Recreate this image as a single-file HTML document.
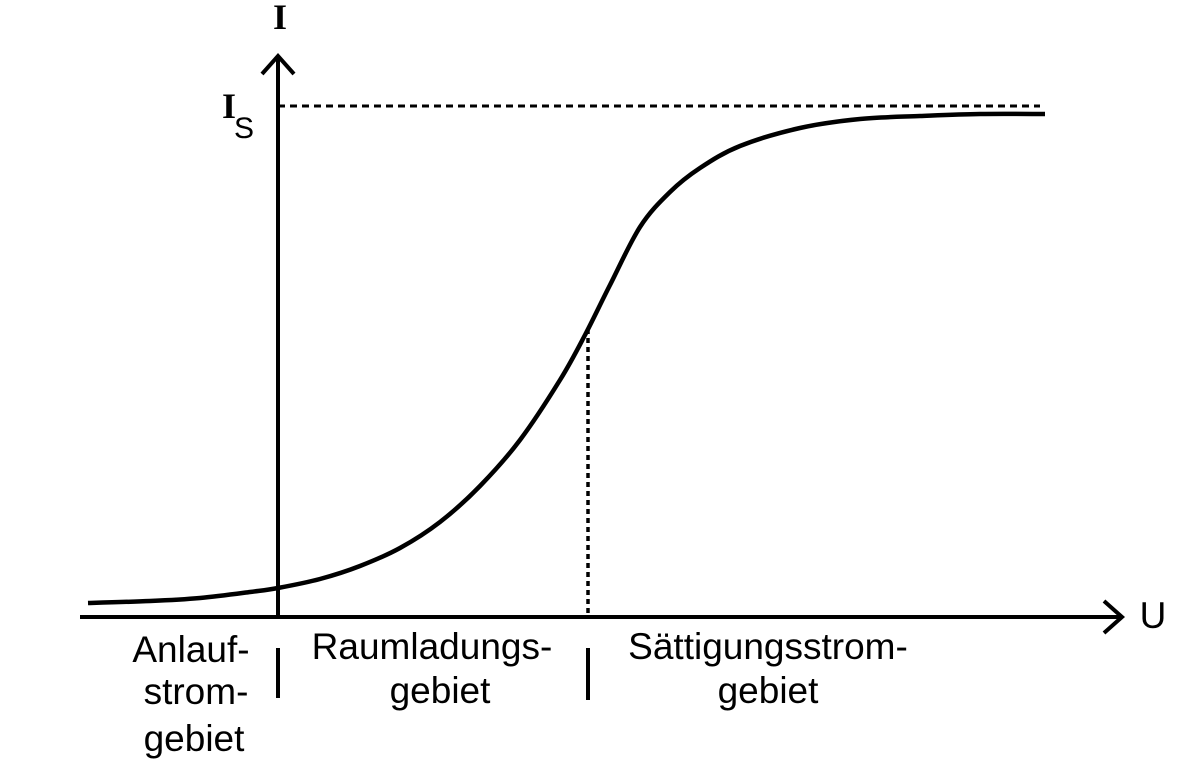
<!DOCTYPE html>
<html><head><meta charset="utf-8"><style>
html,body{margin:0;padding:0;background:#fff}
svg{display:block}
text{fill:#000}
</style></head><body>
<svg width="1197" height="765" viewBox="0 0 1197 765">
<g id="chart"></g>
</svg>
<script>
// Voltage (arbitrary units) and current (arbitrary units)
const uValues = [-1.90,-1.28,-0.78,-0.28,0,0.42,0.82,1.22,1.62,2.02,2.42,2.82,3.07,3.32,3.62,3.92,4.22,4.62,5.22,5.82,6.42,7.02,7.67];
const iValues = [0.14,0.16,0.19,0.25,0.29,0.38,0.51,0.69,0.95,1.31,1.77,2.37,2.82,3.32,3.90,4.25,4.49,4.71,4.89,4.98,5.01,5.03,5.03];
const saturationCurrent = [5.11];
const markerU = [3.10];
const axisLabels = ["U","I"];

const x0=278, y0=617, sx=100, sy=100;
function xs(u){return x0+u*sx;}
function ys(i){return y0-i*sy;}
const ns="http://www.w3.org/2000/svg";
const g=document.getElementById('chart');
function mk(tag,attrs,name){const e=document.createElementNS(ns,tag);for(const k in attrs)e.setAttribute(k,attrs[k]);


g.appendChild(e);return e;}

mk('line',{x1:80,y1:y0,x2:1122,y2:y0,stroke:'#000','stroke-width':4},'x-axis');
mk('polyline',{points:'1104,601 1122,617 1104,633',fill:'none',stroke:'#000','stroke-width':4},'x-axis-arrow');
mk('line',{x1:x0,y1:617,x2:x0,y2:56,stroke:'#000','stroke-width':4},'y-axis');
mk('polyline',{points:'262,74 278,56 294,74',fill:'none',stroke:'#000','stroke-width':4},'y-axis-arrow');

const ysat=ys(saturationCurrent[0]);
mk('line',{x1:x0,y1:ysat,x2:1040,y2:ysat,stroke:'#000','stroke-width':3,'stroke-dasharray':'7,5'},'saturation-line');

const P=uValues.map((u,k)=>[xs(u),ys(iValues[k])]);
let d='M'+P[0][0]+','+P[0][1];
for(let k=0;k<P.length-1;k++){
  const p0=P[k-1]||P[k],p1=P[k],p2=P[k+1],p3=P[k+2]||P[k+1];
  const c1=[p1[0]+(p2[0]-p0[0])/6,p1[1]+(p2[1]-p0[1])/6];
  const c2=[p2[0]-(p3[0]-p1[0])/6,p2[1]-(p3[1]-p1[1])/6];
  d+='C'+c1[0].toFixed(1)+','+c1[1].toFixed(1)+' '+c2[0].toFixed(1)+','+c2[1].toFixed(1)+' '+p2[0].toFixed(1)+','+p2[1].toFixed(1);
}
mk('path',{d:d,fill:'none',stroke:'#000','stroke-width':4.5,'stroke-linejoin':'round'},'current-curve');

function interp(u){for(let k=1;k<uValues.length;k++){if(u<=uValues[k]){const t=(u-uValues[k-1])/(uValues[k]-uValues[k-1]);return iValues[k-1]+t*(iValues[k]-iValues[k-1]);}}return iValues[iValues.length-1];}
const mx=xs(markerU[0]);
mk('line',{x1:mx,y1:ys(interp(markerU[0])),x2:mx,y2:614,stroke:'#000','stroke-width':3.5,'stroke-dasharray':'5,4'},'boundary-dotted-line');

mk('line',{x1:x0,y1:648,x2:x0,y2:698,stroke:'#000','stroke-width':4},'region-separator-1');
mk('line',{x1:mx,y1:648,x2:mx,y2:700,stroke:'#000','stroke-width':4},'region-separator-2');

function txt(s,x,y,name,style){const e=mk('text',{x:x,y:y,'text-anchor':'middle'},name);
e.setAttribute('style',style||'font-family:"Liberation Sans",sans-serif;font-size:37px');e.textContent=s;return e;}
const serif='font-family:"Liberation Serif",serif;font-weight:bold;font-size:36px';
txt(axisLabels[0],1153,628,'x-axis-title');
txt(axisLabels[1],280,29,'y-axis-title',serif);
txt('I',229,118,'saturation-label',serif);
txt('S',244,138,'saturation-subscript','font-family:"Liberation Sans",sans-serif;font-size:30px');
txt('Anlauf-',191,662,'region-1-label-line1');
txt('strom-',196,704,'region-1-label-line2');
txt('gebiet',194,751,'region-1-label-line3');
txt('Raumladungs-',432,659,'region-2-label-line1');
txt('gebiet',440,703,'region-2-label-line2');
txt('Sättigungsstrom-',768,659,'region-3-label-line1');
txt('gebiet',768,703,'region-3-label-line2');
</script>
</body></html>
